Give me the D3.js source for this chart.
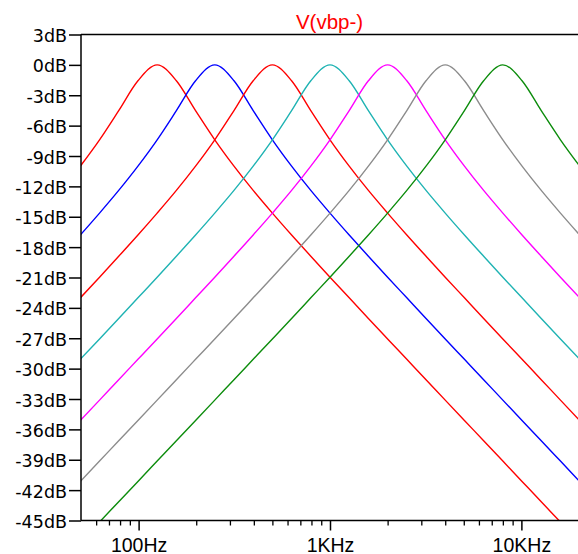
<!DOCTYPE html>
<html>
<head>
<meta charset="utf-8">
<script src="https://cdn.jsdelivr.net/npm/d3@7"></script>
<style>
  html, body { margin: 0; padding: 0; background: #fff; }
  svg { display: block; }
  text { font-family: "DejaVu Sans", sans-serif; }
</style>
</head>
<body>
<svg id="chart" width="578" height="554"></svg>
<script>
// Frequencies (Hz), 1/3-octave sample points
const freqs = [49.6, 62.5, 78.7, 99.2, 125, 157.5, 198.4, 250, 315, 396.9, 500, 630, 793.7, 1000,
  1260, 1587, 2000, 2520, 3175, 4000, 5040, 6350, 8000, 10079, 12699, 16000, 20159];

// Series values in dB
const s125 = [-10.0, -7.4, -4.52, -1.57, 0, -1.57, -4.52, -7.4, -10.0, -12.4, -14.64, -16.8, -18.9, -20.97,
  -23.01, -25.05, -27.07, -29.08, -31.09, -33.11, -35.12, -37.12, -39.13, -41.14, -43.15, -45.15, -47.16];
const s250 = [-16.8, -14.64, -12.4, -10.0, -7.4, -4.52, -1.57, 0, -1.57, -4.52, -7.4, -10.0, -12.4, -14.64,
  -16.8, -18.9, -20.97, -23.01, -25.05, -27.07, -29.08, -31.09, -33.11, -35.12, -37.12, -39.13, -41.14];
const s500 = [-23.01, -20.97, -18.9, -16.8, -14.64, -12.4, -10.0, -7.4, -4.52, -1.57, 0, -1.57, -4.52, -7.4,
  -10.0, -12.4, -14.64, -16.8, -18.9, -20.97, -23.01, -25.05, -27.07, -29.08, -31.09, -33.11, -35.12];
const s1k = [-29.08, -27.07, -25.05, -23.01, -20.97, -18.9, -16.8, -14.64, -12.4, -10.0, -7.4, -4.52, -1.57, 0,
  -1.57, -4.52, -7.4, -10.0, -12.4, -14.64, -16.8, -18.9, -20.97, -23.01, -25.05, -27.07, -29.08];
const s2k = [-35.12, -33.11, -31.09, -29.08, -27.07, -25.05, -23.01, -20.97, -18.9, -16.8, -14.64, -12.4, -10.0, -7.4,
  -4.52, -1.57, 0, -1.57, -4.52, -7.4, -10.0, -12.4, -14.64, -16.8, -18.9, -20.97, -23.01];
const s4k = [-41.14, -39.13, -37.12, -35.12, -33.11, -31.09, -29.08, -27.07, -25.05, -23.01, -20.97, -18.9, -16.8, -14.64,
  -12.4, -10.0, -7.4, -4.52, -1.57, 0, -1.57, -4.52, -7.4, -10.0, -12.4, -14.64, -16.8];
const s8k = [-47.16, -45.15, -43.15, -41.14, -39.13, -37.12, -35.12, -33.11, -31.09, -29.08, -27.07, -25.05, -23.01, -20.97,
  -18.9, -16.8, -14.64, -12.4, -10.0, -7.4, -4.52, -1.57, 0, -1.57, -4.52, -7.4, -10.0];

const seriesValues = [s125, s250, s500, s1k, s2k, s4k, s8k];
const seriesColors = ["#ff0000", "#0000ff", "#ff0000", "#1fb3b3", "#ff00ff", "#8c8c8c", "#0c8c0c"];

const yTicks = [3, 0, -3, -6, -9, -12, -15, -18, -21, -24, -27, -30, -33, -36, -39, -42, -45];
const xMajor = [100, 1000, 10000];
const xMajorLabels = ["100Hz", "1KHz", "10KHz"];
const xMinor = [60, 70, 80, 90, 200, 300, 400, 500, 600, 700, 800, 900,
  2000, 3000, 4000, 5000, 6000, 7000, 8000, 9000];
const title = "V(vbp-)";

(function () {
const svg = d3.select("#chart");
const pl = 81, pr = 579, pt = 34.5, pb = 520.5;

const x = d3.scaleLog().domain([50, 20000]).range([pl, pr]);
const y = d3.scaleLinear().domain([-45, 3]).range([pb, pt]);

// clip
svg.append("clipPath").attr("id", "clip")
  .append("rect").attr("x", pl).attr("y", pt - 2).attr("width", pr - pl).attr("height", pb - pt + 2);

// curves
const line = d3.line()
  .x((d, i) => x(freqs[i]))
  .y(d => y(d))
  .curve(d3.curveMonotoneX);

const g = svg.append("g").attr("clip-path", "url(#clip)");
seriesValues.forEach((vals, k) => {
  g.append("path")
    .attr("d", line(vals))
    .attr("fill", "none")
    .attr("stroke", seriesColors[k])
    .attr("stroke-width", 1.4);
});

// axes frame
svg.append("line").attr("x1", pl).attr("x2", 578).attr("y1", pt).attr("y2", pt)
  .attr("stroke", "#000").attr("stroke-width", 1.5);
svg.append("line").attr("x1", pl).attr("x2", 578).attr("y1", pb).attr("y2", pb)
  .attr("stroke", "#000").attr("stroke-width", 1.5);
svg.append("line").attr("x1", pl).attr("x2", pl).attr("y1", pt).attr("y2", pb)
  .attr("stroke", "#000").attr("stroke-width", 1.5);

// y axis ticks + labels
const yAxis = d3.axisLeft(y).tickValues(yTicks).tickSize(12).tickPadding(2)
  .tickFormat(d => d + "dB");
const ya = svg.append("g").attr("transform", `translate(${pl},0)`).call(yAxis);
ya.select(".domain").remove();
ya.selectAll(".tick line").attr("stroke", "#000").attr("stroke-width", 1.5);
ya.selectAll(".tick text").attr("fill", "#000").attr("dy", "0.4em").style("font-size", "17.5px")
  .style("font-family", "'DejaVu Sans', sans-serif");

// x axis major
const xAxis = d3.axisBottom(x).tickValues(xMajor).tickSize(10).tickPadding(6)
  .tickFormat((d, i) => xMajorLabels[i]);
const xa = svg.append("g").attr("transform", `translate(0,${pb})`).call(xAxis);
xa.select(".domain").remove();
xa.selectAll(".tick line").attr("stroke", "#000").attr("stroke-width", 1.5);
xa.selectAll(".tick text").attr("fill", "#000").attr("y", 31).attr("dy", 0)
  .style("font-size", "19.5px")
  .style("font-family", "'Liberation Sans', Arial, sans-serif");

// x axis minor
const xAxisMinor = d3.axisBottom(x).tickValues(xMinor).tickSize(5).tickFormat("");
const xm = svg.append("g").attr("transform", `translate(0,${pb})`).call(xAxisMinor);
xm.select(".domain").remove();
xm.selectAll(".tick line").attr("stroke", "#000").attr("stroke-width", 1.3);

// title
svg.append("text").attr("x", (pl + 578) / 2).attr("y", 28.5)
  .attr("text-anchor", "middle").attr("fill", "#ff0000")
  .style("font-family", "'Liberation Sans', Arial, sans-serif")
  .style("font-size", "20.5px").text(title);
})();
</script>
</body>
</html>
